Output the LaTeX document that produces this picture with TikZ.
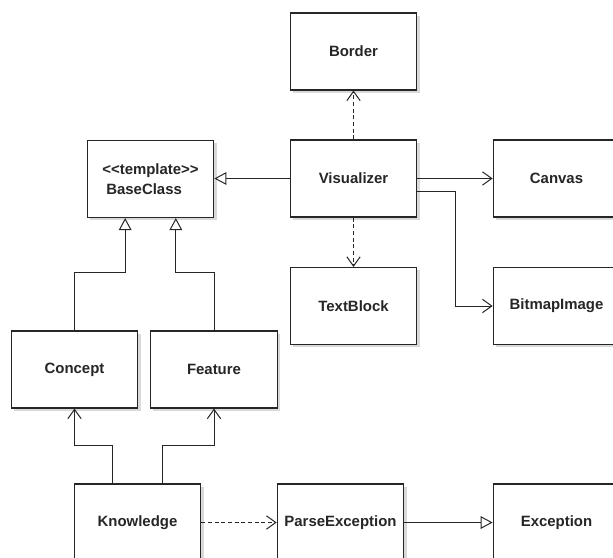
\documentclass[tikz,border=0pt]{standalone}
\usepackage{fontspec}
\setmainfont{Liberation Sans}[Ligatures=TeXOff]
\usepackage{xcolor}
\usetikzlibrary{arrows.meta,shadows}

\begin{document}
\begin{tikzpicture}[x=0.75pt,y=-0.75pt,
    cls/.style={draw=black!85, line width=0.8pt, fill=white, text=black!85,
      minimum width=95pt, minimum height=57.75pt,
      font=\bfseries\fontsize{11.2}{15.5}\selectfont,
      drop shadow={shadow xshift=2pt, shadow yshift=-2pt, fill=black!15, opacity=1}},
    gen/.style={draw=black!85, line width=0.75pt, -{Triangle[open,length=9pt,width=9.5pt]}},
    assoc/.style={draw=black!85, line width=0.75pt, -{Straight Barb[length=7pt,width=10pt]}},
    dep/.style={assoc, dash pattern=on 3pt off 2pt}]
  \clip (0,0) rectangle (613,557);

  % Draw classes
  \node[cls] (border) at (353.5,51.5) {Border};
  \node[cls] (vis) at (353.5,178.5) {Visualizer};
  \node[cls] (canvas) at (556.5,178.5) {Canvas};
  \node[cls, align=left] (base) at (150.5,179) {<<template>>\\\hspace{3pt}BaseClass};
  \node[cls] (text) at (353.5,306) {TextBlock};
  \node[cls] (bitmap) at (556.5,306) {BitmapImage};
  \node[cls] (concept) at (74.5,369.5) {Concept};
  \node[cls] (feature) at (214,369.5) {Feature};
  \node[cls] (know) at (137.5,522.5) {Knowledge};
  \node[cls] (parse) at (340.5,522.5) {ParseException};
  \node[cls] (exc) at (556.5,522.5) {Exception};

  % Draw inheritance
  \draw[gen] (vis.west) -- (vis.west -| base.east);
  \draw[gen] (concept.north) -- ++(0,-58) -| ([xshift=-19pt]base.south);
  \draw[gen] (feature.north) -- ++(0,-58) -| ([xshift=19pt]base.south);
  \draw[gen] (parse) -- (exc);

  % Draw associations
  \draw[assoc] (vis) -- (canvas);
  \draw[assoc] ([yshift=-10pt]vis.east) -- ++(38,0) |- (bitmap.west);
  \draw[assoc] ([xshift=-19pt]know.north) -- ++(0,-38) -| (concept.south);
  \draw[assoc] ([xshift=19pt]know.north) -- ++(0,-38) -| (feature.south);

  % Draw dependencies
  \draw[dep] (vis) -- (border);
  \draw[dep] (vis) -- (text);
  \draw[dep] (know) -- (parse);
\end{tikzpicture}
\end{document}
